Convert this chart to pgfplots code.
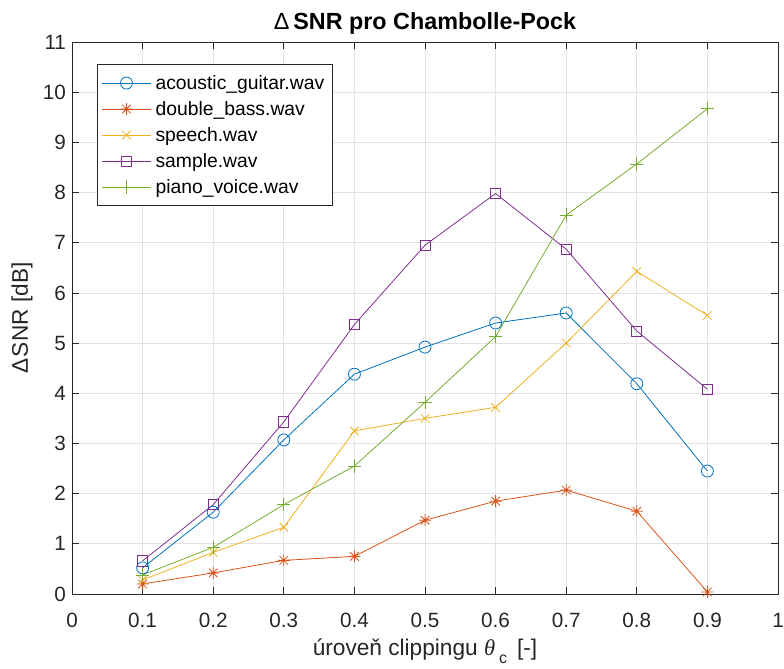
\documentclass[border=0pt]{standalone}
\usepackage{pgfplots}
\pgfplotsset{compat=1.18}
\usepackage{fontspec}
\setmainfont{Liberation Sans}
\newfontfamily\serif{Liberation Serif}
\definecolor{c1}{rgb}{0,0.447,0.741}
\definecolor{c2}{rgb}{0.85,0.325,0.098}
\definecolor{c3}{rgb}{0.929,0.694,0.125}
\definecolor{c4}{rgb}{0.494,0.184,0.556}
\definecolor{c5}{rgb}{0.466,0.674,0.188}
\definecolor{axc}{rgb}{0.15,0.15,0.15}
\pgfdeclareplotmark{mstar}{%
  \pgfpathmoveto{\pgfqpoint{-\pgfplotmarksize}{0pt}}\pgfpathlineto{\pgfqpoint{\pgfplotmarksize}{0pt}}%
  \pgfpathmoveto{\pgfqpoint{0pt}{-\pgfplotmarksize}}\pgfpathlineto{\pgfqpoint{0pt}{\pgfplotmarksize}}%
  \pgfpathmoveto{\pgfqpoint{-0.7071\pgfplotmarksize}{-0.7071\pgfplotmarksize}}\pgfpathlineto{\pgfqpoint{0.7071\pgfplotmarksize}{0.7071\pgfplotmarksize}}%
  \pgfpathmoveto{\pgfqpoint{-0.7071\pgfplotmarksize}{0.7071\pgfplotmarksize}}\pgfpathlineto{\pgfqpoint{0.7071\pgfplotmarksize}{-0.7071\pgfplotmarksize}}%
  \pgfusepathqstroke}
\begin{document}
\begin{tikzpicture}
\begin{axis}[
  scale only axis,
  width=529.5pt, height=414pt,
  xmin=0, xmax=1, ymin=0, ymax=11,
  xtick={0,0.1,...,1.01},
  xticklabels={0,0.1,0.2,0.3,0.4,0.5,0.6,0.7,0.8,0.9,1},
  ytick={0,1,...,11},
  tick align=inside,
  major tick length=5pt,
  axis line style={axc, line width=0.6pt},
  tick style={axc, line width=0.6pt},
  grid=major,
  grid style={gray!22, line width=0.6pt},
  every tick label/.append style={font=\fontsize{15.5}{17}\selectfont, text=axc},
  /pgf/number format/assume math mode=true,
  xticklabel style={yshift=-11pt},
  yticklabel style={xshift=-1pt},
  title={{\mdseries Δ}\,SNR pro Chambolle-Pock},
  title style={font=\bfseries\fontsize{17.5}{19}\selectfont, yshift=-4pt},
  xlabel={úroveň clippingu {\serif\itshape θ}\,\raisebox{-6.5pt}{\fontsize{12}{13}\selectfont c}\, [-]},
  ylabel={Δ\kern1pt SNR [dB]},
  label style={font=\fontsize{17}{19}\selectfont, text=axc},
  xlabel style={yshift=-1pt},
  ylabel style={yshift=1pt},
  legend style={at={(rel axis cs:0,1)}, anchor=north west,
    xshift=18.75pt, yshift=-16.5pt,
    draw=axc, line width=0.6pt, font=\fontsize{14.5}{16}\selectfont,
    row sep=3.5pt, inner xsep=3pt, inner ysep=6pt,
    nodes={inner xsep=3pt}},
  legend cell align=left,
  legend image code/.code={\draw[mark repeat=2,mark phase=2] plot coordinates {(0pt,0pt) (18.5pt,0pt) (37pt,0pt)};},
  every axis plot/.append style={line width=0.6pt, mark size=4.5pt, mark options={solid, line width=0.6pt}},
]
\addplot[color=c1, mark=o] coordinates {(0.1,0.52)(0.2,1.63)(0.3,3.07)(0.4,4.38)(0.5,4.92)(0.6,5.40)(0.7,5.60)(0.8,4.19)(0.9,2.45)};
\addlegendentry{acoustic\_guitar.wav}
\addplot[color=c2, mark=mstar] coordinates {(0.1,0.20)(0.2,0.42)(0.3,0.67)(0.4,0.75)(0.5,1.47)(0.6,1.85)(0.7,2.07)(0.8,1.65)(0.9,0.04)};
\addlegendentry{double\_bass.wav}
\addplot[color=c3, mark=x] coordinates {(0.1,0.28)(0.2,0.83)(0.3,1.33)(0.4,3.25)(0.5,3.50)(0.6,3.72)(0.7,5.00)(0.8,6.43)(0.9,5.55)};
\addlegendentry{speech.wav}
\addplot[color=c4, mark=square, mark size=3.8pt] coordinates {(0.1,0.66)(0.2,1.78)(0.3,3.43)(0.4,5.37)(0.5,6.95)(0.6,7.98)(0.7,6.87)(0.8,5.24)(0.9,4.08)};
\addlegendentry{sample.wav}
\addplot[color=c5, mark=+, mark size=5pt] coordinates {(0.1,0.38)(0.2,0.93)(0.3,1.78)(0.4,2.55)(0.5,3.82)(0.6,5.13)(0.7,7.55)(0.8,8.57)(0.9,9.67)};
\addlegendentry{piano\_voice.wav}
\end{axis}
\pgfresetboundingbox
\useasboundingbox ([xshift=-54pt,yshift=-56.25pt]current axis.south west) rectangle ([xshift=4.5pt,yshift=31.5pt]current axis.north east);
\end{tikzpicture}
\end{document}
